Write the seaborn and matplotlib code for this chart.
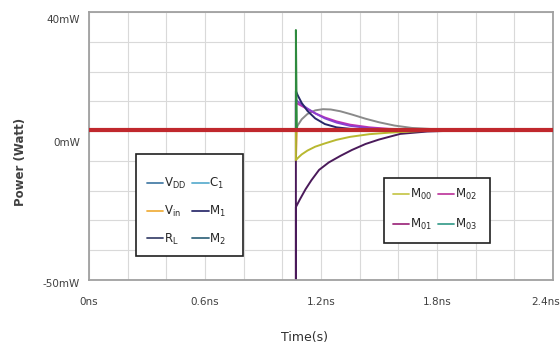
import pandas as pd
import matplotlib.pyplot as plt
import seaborn as sns
from matplotlib.lines import Line2D
from matplotlib.patches import Rectangle
from matplotlib.transforms import ScaledTranslation

# time in ns, power in mW
t_red = [0.0, 2.4]
p_red = [0.4, 0.4]

t_spike = [0.0, 1.07, 1.07, 1.075, 2.4]
p_green = [0.4, 0.4, 34.0, 0.4, 0.4]
p_orange = [0.4, 0.4, -10.0, 0.4, 0.4]

t_grey = [0.0, 1.07, 1.08, 1.10, 1.13, 1.17, 1.21, 1.25, 1.30, 1.36, 1.43, 1.50, 1.58, 1.67, 1.78, 1.90, 2.05, 2.4]
p_grey = [0.4, 0.4, 2.0, 4.0, 5.8, 7.0, 7.4, 7.3, 6.7, 5.6, 4.2, 3.0, 1.9, 1.1, 0.7, 0.5, 0.4, 0.4]

t_decay = [0.0, 1.07, 1.07, 1.08, 1.10, 1.13, 1.17, 1.22, 1.28, 1.35, 1.45, 1.55, 1.70, 1.85, 2.4]
p_navy = [0.4, 0.4, 13.5, 12.0, 9.5, 6.8, 4.3, 2.4, 1.3, 0.8, 0.5, 0.4, 0.4, 0.4, 0.4]
p_violet = [0.4, 0.4, 10.5, 10.0, 9.0, 7.6, 6.0, 4.3, 2.9, 1.8, 1.0, 0.6, 0.45, 0.4, 0.4]
p_magenta = [0.4, 0.4, 9.5, 9.2, 8.5, 7.4, 6.0, 4.6, 3.3, 2.2, 1.3, 0.8, 0.5, 0.4, 0.4]
p_yellow = [0.4, 0.4, -9.7, -9.0, -7.8, -6.5, -5.2, -4.1, -2.9, -1.9, -1.0, -0.5, 0.0, 0.3, 0.4]

t_m01 = [0.0, 1.07, 1.07, 1.07, 1.09, 1.12, 1.15, 1.19, 1.24, 1.30, 1.36, 1.43, 1.50, 1.61, 1.75, 1.90, 2.10, 2.4]
p_m01 = [0.4, 0.4, -52.0, -25.5, -23.0, -19.5, -16.5, -13.0, -10.5, -8.3, -6.3, -4.3, -2.8, -0.9, -0.1, 0.2, 0.35, 0.4]

series = {
    "Vin": (t_spike, p_orange),
    "M01": (t_m01, p_m01),
    "M00": (t_decay, p_yellow),
    "grey": (t_grey, p_grey),
    "M02": (t_decay, p_magenta),
    "violet": (t_decay, p_violet),
    "M1": (t_decay, p_navy),
    "M2": (t_spike, p_green),
}
colors = {
    "Vin": "#e8a040", "M01": "#4a1a5a", "M00": "#b8b830", "grey": "#8a8a8a",
    "M02": "#c030b0", "violet": "#8a40d0", "M1": "#28286a", "M2": "#2e8a3e",
}

rows = []
for name, (ts, ps) in series.items():
    for t, p in zip(ts, ps):
        rows.append({"series": name, "t": t, "p": p})
df = pd.DataFrame(rows)
df_red = pd.DataFrame({"t": t_red, "p": p_red})

sns.set_style("white")
narrow = ["Liberation Sans Narrow", "DejaVu Sans"]
plt.rcParams["mathtext.fontset"] = "custom"
plt.rcParams["mathtext.rm"] = "Liberation Sans Narrow"

fig = plt.figure(figsize=(5.6, 3.47), dpi=100)
ax = fig.add_axes([0.159, 0.193, 0.8285, 0.772])

sns.lineplot(data=df, x="t", y="p", hue="series", palette=colors,
             estimator=None, sort=False, legend=False, linewidth=1.4, ax=ax)
sns.lineplot(data=df_red, x="t", y="p", color="#c0282d", linewidth=3.0,
             estimator=None, sort=False, ax=ax, zorder=3)

ax.set_xlim(0, 2.4)
ax.set_ylim(-50, 40)
xt = [i * 0.2 for i in range(13)]
ax.set_xticks(xt)
ax.set_xticklabels([f"{x:g}ns" if i % 3 == 0 else "" for i, x in enumerate(xt)])
yt = list(range(-50, 41, 10))
ax.set_yticks(yt)
ax.set_yticklabels([f"{y}mW" if y in (-50, 0, 40) else "" for y in yt])
ax.grid(True, color="#d9d9d9", linewidth=0.8)
ax.tick_params(axis="both", length=3, color="#a0a0a0", labelsize=7.5,
               labelcolor="#404040")
ax.tick_params(axis="x", pad=9)
for lab in ax.get_xticklabels() + ax.get_yticklabels():
    lab.set_family(narrow)
y_shift = {-50: -3, 0: -11, 40: -7}
for y, lab in zip(yt, ax.get_yticklabels()):
    dy = y_shift.get(y, 0)
    lab.set_transform(lab.get_transform() + ScaledTranslation(0, dy / 100, fig.dpi_scale_trans))
last = ax.get_xticklabels()[-1]
last.set_transform(last.get_transform() + ScaledTranslation(-7 / 100, 0, fig.dpi_scale_trans))
for s in ax.spines.values():
    s.set_color("#a0a0a0")
    s.set_linewidth(1.3)

ax.set_xlabel("Time(s)", fontsize=9, color="#303030", family=narrow)
ax.xaxis.set_label_coords(0.465, -0.19)
ax.set_ylabel("Power (Watt)", fontsize=8.5, color="#404040", fontweight="bold")
ax.yaxis.set_label_coords(-0.133, 0.44)

# legend boxes
ax.add_patch(Rectangle((0.101, 0.0896), 0.231, 0.380, transform=ax.transAxes,
                       facecolor="white", edgecolor="#202020", linewidth=1.2, zorder=4))
ax.add_patch(Rectangle((0.636, 0.138), 0.228, 0.243, transform=ax.transAxes,
                       facecolor="white", edgecolor="#202020", linewidth=1.2, zorder=4))

leg1_labels = [r"V$_{\mathrm{DD}}$", r"V$_{\mathrm{in}}$", r"R$_{\mathrm{L}}$",
               r"C$_{\mathrm{1}}$", r"M$_{\mathrm{1}}$", r"M$_{\mathrm{2}}$"]
leg1_colors = ["#4a7fa8", "#f0b040", "#404870", "#60b0d0", "#303070", "#3a6a80"]
leg2_labels = [r"M$_{\mathrm{00}}$", r"M$_{\mathrm{01}}$", r"M$_{\mathrm{02}}$", r"M$_{\mathrm{03}}$"]
leg2_colors = ["#c8c850", "#a03080", "#c040a0", "#40a090"]

h1 = [Line2D([], [], color=c, linewidth=1.3) for c in leg1_colors]
h2 = [Line2D([], [], color=c, linewidth=1.3) for c in leg2_colors]
leg_kw = dict(frameon=False, ncol=2, handlelength=1.4, handletextpad=0.05,
              columnspacing=0.5, borderpad=0, loc="upper left",
              prop={"family": narrow, "size": 8.5})
l1 = ax.legend(h1, leg1_labels, bbox_to_anchor=(0.112, 0.411), labelspacing=1.08, **leg_kw)
l1.set_zorder(5)
ax.add_artist(l1)
l2 = ax.legend(h2, leg2_labels, bbox_to_anchor=(0.642, 0.37), labelspacing=1.25, **leg_kw)
l2.set_zorder(5)

fig.savefig("out.png", dpi=100)
